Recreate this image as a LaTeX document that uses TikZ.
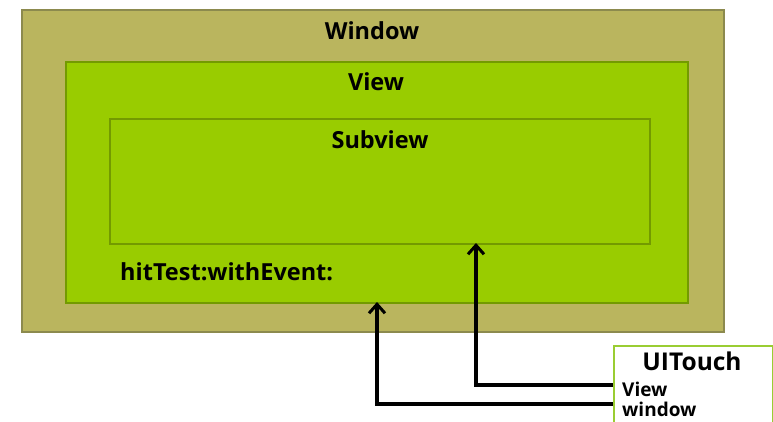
\documentclass[tikz,border=0pt]{standalone}
\usepackage{fontspec}
\setmainfont{Open Sans}
\usetikzlibrary{arrows.meta,positioning}
\definecolor{khaki}{HTML}{BAB55E}
\definecolor{khakiline}{HTML}{8C8A4E}
\definecolor{lime}{HTML}{99CC00}
\definecolor{limeline}{HTML}{739A00}
\definecolor{touchline}{HTML}{9ACD32}
\tikzset{
  layer/.style={draw=#1,line width=2.2pt,anchor=north west,inner sep=0pt},
  title/.style={font=\bfseries\fontsize{23.5}{26}\selectfont,text=black,inner sep=0pt},
  field/.style={font=\bfseries\fontsize{19}{22}\selectfont,text=black,inner sep=0pt,anchor=west},
  pointer/.style={-{Straight Barb[length=9pt,width=16pt,line width=3pt]},line width=3.8pt,black}
}

\begin{document}
\begin{tikzpicture}[x=1pt,y=-1pt]
  \useasboundingbox (0,0) rectangle (773,422);
  \clip (0,0) rectangle (773,422);

  % nested views
  \node[layer=khakiline,fill=khaki,minimum width=702pt,minimum height=322pt] (window) at (21,9) {};
  \node[layer=limeline,fill=lime,minimum width=622pt,minimum height=241pt] (view) at (65,61) {};
  \node[layer=limeline,fill=lime,minimum width=540pt,minimum height=125pt] (subview) at (109,118) {};

  \node[title] (windowlbl) at (372,31) {Window};
  \node[title] (viewlbl) at (376,82) {View};
  \node[title] (subviewlbl) at (380,140) {Subview};
  \node[title,anchor=west] (hittest) at (120,272) {hitTest:withEvent:};

  % touch object, runs off the page
  \node[draw=touchline,fill=white,line width=2.2pt,anchor=north west,minimum width=159pt,minimum height=110pt,inner sep=0pt] (touch) at (613,345) {};
  \node[title,font=\bfseries\fontsize{24.5}{27}\selectfont] (touchlbl) at (692,361) {UITouch};
  \node[field] (fview) at (622,389) {View};
  \node[field] (fwindow) at (622,409) {window};

  \coordinate (hitsub) at (476,243);
  \coordinate (hitview) at (377,302);
  \draw[pointer] (touch.west |- 0,385) -| (hitsub);
  \draw[pointer] (touch.west |- 0,404) -| (hitview);
\end{tikzpicture}
\end{document}
